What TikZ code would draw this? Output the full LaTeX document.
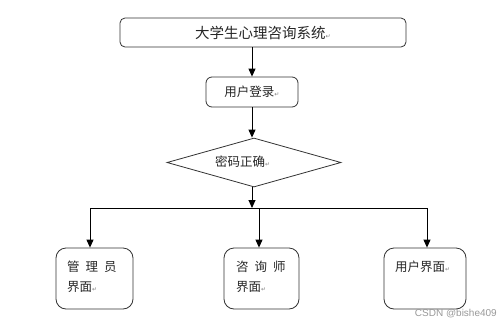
\documentclass[tikz,border=0pt]{standalone}
\usepackage{fontspec}
\newfontfamily\cjk{Noto Sans CJK SC}
\newfontfamily\dvsym{DejaVu Sans}
\newfontfamily\wmfont{Liberation Sans}
\usetikzlibrary{arrows.meta,shapes.geometric}
\newcommand\retmark{{\dvsym\fontsize{6}{6}\selectfont\color{gray}↵}}
\begin{document}
\begin{tikzpicture}[x=1pt,y=-1pt,
  box/.style={draw=black!80, line width=0.8pt, inner sep=0pt},
  arr/.style={draw=black, line width=1pt, -{Triangle[length=8pt,width=7pt]}},
  lbl/.style={font=\cjk, inner sep=0pt, anchor=west, text=black!85}]
\useasboundingbox (0,0) rectangle (499,325);
\fill[white] (0,0) rectangle (499,325);
% title
\node[box, rounded corners=5pt, minimum width=286pt, minimum height=29pt,
      font=\cjk\fontsize{14.5}{16}\selectfont, text=black!85] (top) at (263,32.5) {大学生心理咨询系统\retmark};
% login
\node[box, rounded corners=6pt, minimum width=92pt, minimum height=30pt,
      font=\cjk\fontsize{12.5}{14}\selectfont, text=black!85] (login) at (252,92) {用户登录\retmark};
% diamond
\node[box, diamond, minimum width=174pt, minimum height=49pt] (dec) at (254,162.5) {};
\node[lbl, font=\cjk\fontsize{12.5}{14}\selectfont] (dectext) at (215,162) {密码正确\retmark};
% bottom boxes
\node[box, rounded corners=10pt, minimum width=77pt, minimum height=61pt] (m1) at (94.5,278.5) {};
\node[box, rounded corners=10pt, minimum width=75pt, minimum height=61pt] (m2) at (261.5,278.5) {};
\node[box, rounded corners=10pt, minimum width=82pt, minimum height=61pt] (m3) at (425,278.5) {};
\node[lbl, font=\cjk\fontsize{12.5}{14}\selectfont] (t1a) at (67,267) {管\hspace{6pt}理\hspace{6pt}员};
\node[lbl, font=\cjk\fontsize{12.5}{14}\selectfont] (t1b) at (67,287) {界面\retmark};
\node[lbl, font=\cjk\fontsize{12.5}{14}\selectfont] (t2a) at (236,267) {咨\hspace{6pt}询\hspace{6pt}师};
\node[lbl, font=\cjk\fontsize{12.5}{14}\selectfont] (t2b) at (236,287) {界面\retmark};
\node[lbl, font=\cjk\fontsize{12.5}{14}\selectfont] (t3) at (395,267) {用户界面\retmark};
% connectors
\draw[arr] (login.north |- top.south) -- (login.north);
\draw[arr] (login.south) -- (login.south |- dec.north);
\coordinate (j) at (252,208);
\coordinate (b1) at (90,208);
\coordinate (b2) at (259,208);
\coordinate (b3) at (427,208);
\draw[arr] (dec.south -| j) -- (j);
\draw[line width=1pt] (b1) -- (b3);
\draw[arr] (b1) -- (b1 |- m1.north);
\draw[arr] (b2) -- (b2 |- m2.north);
\draw[arr] (b3) -- (b3 |- m3.north);
% watermark
\node[font=\wmfont\fontsize{10}{11}\selectfont, text=black!40, anchor=east, inner sep=0pt] (wm) at (497,314) {CSDN @bishe409};
\end{tikzpicture}
\end{document}
